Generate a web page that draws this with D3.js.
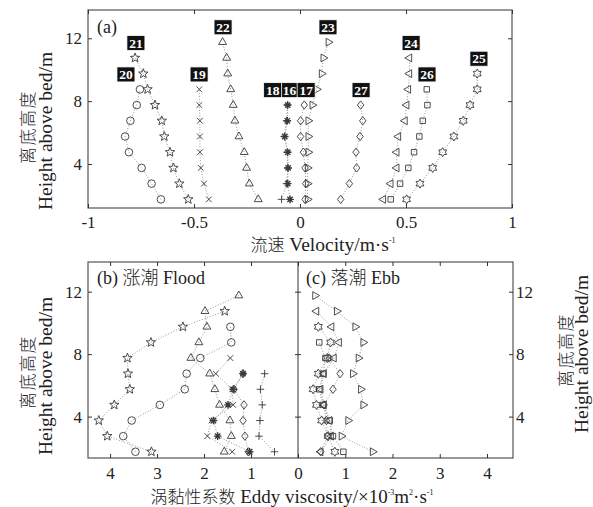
<!DOCTYPE html>
<html>
<head>
<meta charset="utf-8">
<script src="https://cdn.jsdelivr.net/npm/d3@7"></script>
<style>
  body { margin: 0; background: #fff; }
  svg text, svg tspan { font-family: "Liberation Serif", serif; fill: #222; }
  svg .cjk { font-family: "Noto Sans CJK SC", sans-serif; font-weight: 300; }
</style>
</head>
<body>
<svg id="chart" width="593" height="507"></svg>
<script>
// measurement heights above bed (m), bottom to top
const heights = [1.75, 2.75, 3.75, 4.75, 5.75, 6.75, 7.75, 8.75, 9.75, 10.75, 11.75];

const stations = ["16", "17", "18", "19", "20", "21", "22", "23", "24", "25", "26", "27"];
const markerKinds = ["asterisk", "diamond", "plus", "times", "circle", "pentagram",
                     "triangleUp", "triangleRight", "triangleLeft", "hexagram", "square", "diamond"];

// (a) velocity profiles, m/s, same order as stations
const velocity = [
  [-0.047, -0.058, -0.056, -0.058, -0.072, -0.060, -0.058],
  [0.024, 0.027, 0.024, 0.016, 0.003, 0.003, 0.020],
  [-0.087, -0.063, -0.058, -0.060, -0.074, -0.063, -0.060],
  [-0.430, -0.453, -0.468, -0.472, -0.472, -0.472, -0.475, -0.475],
  [-0.656, -0.700, -0.747, -0.807, -0.825, -0.800, -0.770, -0.755],
  [-0.527, -0.569, -0.597, -0.613, -0.640, -0.652, -0.684, -0.719, -0.739, -0.778],
  [-0.197, -0.239, -0.252, -0.263, -0.288, -0.307, -0.315, -0.327, -0.341, -0.346, -0.365],
  [0.036, 0.036, 0.036, 0.039, 0.039, 0.039, 0.058, 0.079, 0.102, 0.110, 0.134],
  [0.393, 0.428, 0.456, 0.456, 0.464, 0.495, 0.503, 0.511, 0.516, 0.516],
  [0.503, 0.566, 0.626, 0.673, 0.726, 0.770, 0.802, 0.836, 0.836],
  [0.428, 0.472, 0.511, 0.538, 0.563, 0.579, 0.601, 0.598],
  [0.192, 0.233, 0.267, 0.264, 0.283, 0.296, 0.286]
];
// where each station number box sits, in velocity units
const labelVelocity = [-0.049, 0.029, -0.129, -0.476, -0.821, -0.774, -0.363, 0.132, 0.524, 0.844, 0.599, 0.288];

// (b) flood eddy viscosity, 1e-3 m2/s
const floodStations = ["16", "17", "18", "19", "20", "21", "22"];
const floodViscosity = [
  [1.03, 1.71, 1.80, 1.49, 1.38, 1.17],
  [1.06, 1.13, 1.17, 1.15, 1.36, 1.17],
  [0.50, 0.83, 0.81, 0.76, 0.80, 0.71],
  [1.40, 1.93, 1.84, 1.38, 1.40, 1.75, 1.44],
  [3.46, 3.72, 3.54, 2.94, 2.41, 2.37, 2.08, 1.42, 1.44],
  [3.12, 4.06, 4.24, 3.91, 3.58, 3.62, 3.63, 3.13, 2.45, 1.56],
  [1.57, 1.42, 1.45, 1.67, 1.77, 1.88, 2.28, 2.11, 1.94, 1.98, 1.26]
];

// (c) ebb eddy viscosity, 1e-3 m2/s
const ebbStations = ["23", "24", "25", "26", "27"];
const ebbViscosity = [
  [1.58, 0.92, 1.06, 1.38, 1.33, 1.16, 1.28, 1.38, 1.21, 0.82, 0.36],
  [0.48, 0.70, 0.67, 0.55, 0.48, 0.55, 0.76, 0.87, 0.71, 0.39],
  [0.78, 0.64, 0.50, 0.39, 0.32, 0.43, 0.62, 0.69, 0.43],
  [0.96, 0.74, 0.67, 0.53, 0.45, 0.53, 0.58, 0.45],
  [0.48, 0.62, 0.60, 0.55, 0.74, 0.89, 0.66]
];

const velocityTicks = [-1, -0.5, 0, 0.5, 1];
const heightTicks = [4, 8, 12];
const viscosityTicks = [0, 1, 2, 3, 4];

const svg = d3.select("#chart");
const frameA = {left: 88, right: 512, top: 10, bottom: 208};
const frameB = {left: 88, mid: 298, right: 513, top: 262, bottom: 458};

const xA = d3.scaleLinear().domain([-1, 1]).range([frameA.left, frameA.right]);
const yA = d3.scaleLinear().domain([1.2, 13.8]).range([frameA.bottom, frameA.top]);
const xB = d3.scaleLinear().domain([0, 4.47]).range([frameB.mid, frameB.left]);
const xC = d3.scaleLinear().domain([0, 4.55]).range([frameB.mid, frameB.right]);
const yB = d3.scaleLinear().domain([1.35, 13.9]).range([frameB.bottom, frameB.top]);

const markerColor = "#3a3a3a";
const lineColor = "#8a8a8a";
const markerR = 3.8;

function markerPath(kind, r) {
  const p = d3.path();
  const poly = pts => { pts.forEach(([x, y], i) => i ? p.lineTo(x, y) : p.moveTo(x, y)); p.closePath(); };
  const ring = (n, R, start) => d3.range(n).map(i => [R * Math.cos(start + i * 2 * Math.PI / n), R * Math.sin(start + i * 2 * Math.PI / n)]);
  const star = (n, R, ri) => d3.range(2 * n).map(i => {
    const a = -Math.PI / 2 + i * Math.PI / n, rr = i % 2 ? ri : R;
    return [rr * Math.cos(a), rr * Math.sin(a)];
  });
  switch (kind) {
    case "circle": p.arc(0, 0, r, 0, 2 * Math.PI); break;
    case "square": p.rect(-r * 0.72, -r * 0.72, r * 1.44, r * 1.44); break;
    case "diamond": poly([[0, -r * 1.1], [r * 0.85, 0], [0, r * 1.1], [-r * 0.85, 0]]); break;
    case "triangleUp": poly(ring(3, r * 1.2, -Math.PI / 2)); break;
    case "triangleRight": poly(ring(3, r * 1.2, 0)); break;
    case "triangleLeft": poly(ring(3, r * 1.2, Math.PI)); break;
    case "pentagram": poly(star(5, r * 1.3, r * 0.55)); break;
    case "hexagram": poly(star(6, r * 1.2, r * 0.7)); break;
    case "plus":
      p.moveTo(-r, 0); p.lineTo(r, 0); p.moveTo(0, -r); p.lineTo(0, r); break;
    case "times": {
      const s = r * 0.75;
      p.moveTo(-s, -s); p.lineTo(s, s); p.moveTo(-s, s); p.lineTo(s, -s); break;
    }
    case "asterisk": {
      const s = r * 0.7;
      p.moveTo(-r, 0); p.lineTo(r, 0); p.moveTo(0, -r); p.lineTo(0, r);
      p.moveTo(-s, -s); p.lineTo(s, s); p.moveTo(-s, s); p.lineTo(s, -s); break;
    }
  }
  return p.toString();
}

function drawSeries(g, x, y, values, kind) {
  const pts = values.map((v, i) => [x(v), y(heights[i])]);
  g.append("path")
    .attr("d", d3.line()(pts))
    .attr("fill", "none")
    .attr("stroke", lineColor)
    .attr("stroke-width", 0.9)
    .attr("stroke-dasharray", "1,1.8");
  g.selectAll(null)
    .data(pts)
    .join("path")
    .attr("transform", d => `translate(${d[0]},${d[1]})`)
    .attr("d", markerPath(kind, markerR))
    .attr("fill", "none")
    .attr("stroke", markerColor)
    .attr("stroke-width", kind === "asterisk" ? 1.4 : 0.9);
  if (kind === "asterisk") {
    g.selectAll(null).data(pts).join("circle")
      .attr("cx", d => d[0]).attr("cy", d => d[1]).attr("r", 1.6)
      .attr("fill", markerColor);
  }
}

function styleAxis(g, size, hideText) {
  g.attr("font-family", null).attr("font-size", null);
  g.select(".domain").remove();
  g.selectAll(".tick line").attr("stroke", "#333");
  g.selectAll(".tick text").attr("font-size", size).attr("fill", "#222");
  if (hideText) g.selectAll(".tick text").remove();
}

// Chinese words followed by Latin pieces; pieces flagged true are superscripts
function mixedText(t, cn, parts) {
  t.append("tspan").attr("class", "cjk").attr("font-size", 17).text(cn);
  let raised = false;
  parts.forEach(([s, sup]) => {
    const ts = t.append("tspan").text(s);
    if (sup && !raised) { ts.attr("dy", -8).attr("font-size", 8); raised = true; }
    else if (sup) { ts.attr("font-size", 8); }
    else if (raised) { ts.attr("dy", 8); raised = false; }
  });
}

const intFormat = d3.format("d");

// ---------- panel (a) ----------
const gA = svg.append("g");
gA.append("g").attr("transform", `translate(0,${frameA.bottom})`)
  .call(d3.axisBottom(xA).tickValues(velocityTicks).tickSizeInner(-4).tickSizeOuter(0).tickPadding(8).tickFormat(d => d))
  .call(g => styleAxis(g, 17));
gA.append("g").attr("transform", `translate(0,${frameA.top})`)
  .call(d3.axisTop(xA).tickValues(velocityTicks).tickSizeInner(-4).tickSizeOuter(0))
  .call(g => styleAxis(g, 16, true));
gA.append("g").attr("transform", `translate(${frameA.left},0)`)
  .call(d3.axisLeft(yA).tickValues(heightTicks).tickSizeInner(-4).tickSizeOuter(0).tickPadding(6))
  .call(g => styleAxis(g, 17));
gA.append("g").attr("transform", `translate(${frameA.right},0)`)
  .call(d3.axisRight(yA).tickValues(heightTicks).tickSizeInner(-4).tickSizeOuter(0))
  .call(g => styleAxis(g, 16, true));
gA.append("rect")
  .attr("x", frameA.left).attr("y", frameA.top)
  .attr("width", frameA.right - frameA.left).attr("height", frameA.bottom - frameA.top)
  .attr("fill", "none").attr("stroke", "#333").attr("stroke-width", 1);

stations.forEach((s, i) => drawSeries(gA, xA, yA, velocity[i], markerKinds[i]));

// station number boxes
stations.forEach((s, i) => {
  const topH = heights[velocity[i].length - 1] + 0.95;
  const cx = xA(labelVelocity[i]), cy = yA(topH);
  gA.append("rect")
    .attr("x", cx - 9).attr("y", cy - 7.5).attr("width", 18).attr("height", 15)
    .attr("fill", "#111").attr("stroke", "#fff").attr("stroke-width", 0.8);
  gA.append("text")
    .attr("x", cx).attr("y", cy + 4.5)
    .attr("text-anchor", "middle")
    .attr("font-size", 13.5).attr("font-weight", "bold")
    .style("fill", "#fff")
    .text(s);
});

gA.append("text").attr("x", 97).attr("y", 33).attr("font-size", 18).text("(a)");

const vTitle = gA.append("text").attr("x", 323).attr("y", 251).attr("text-anchor", "middle")
  .attr("font-size", 19.5);
mixedText(vTitle, "流速", [[" Velocity/m·s"], ["-1", true]]);

function heightTitle(g, xCn, xEn, yc) {
  g.append("text").attr("class", "cjk").attr("transform", `translate(${xCn},${yc}) rotate(-90)`)
    .attr("text-anchor", "middle").attr("font-size", 17).attr("letter-spacing", 1.5).text("离底高度");
  g.append("text").attr("transform", `translate(${xEn},${yc + 4}) rotate(-90)`)
    .attr("text-anchor", "middle").attr("font-size", 19.5).text("Height above bed/m");
}
heightTitle(gA, 34, 52, 127);

// ---------- panels (b) and (c) ----------
const gB = svg.append("g");
gB.append("g").attr("transform", `translate(0,${frameB.bottom})`)
  .call(d3.axisBottom(xB).tickValues(viscosityTicks).tickSizeInner(-4).tickSizeOuter(0).tickPadding(9).tickFormat(intFormat))
  .call(g => styleAxis(g, 17));
gB.append("g").attr("transform", `translate(0,${frameB.bottom})`)
  .call(d3.axisBottom(xC).tickValues(viscosityTicks.slice(1)).tickSizeInner(-4).tickSizeOuter(0).tickPadding(9).tickFormat(intFormat))
  .call(g => styleAxis(g, 17));
gB.append("g").attr("transform", `translate(0,${frameB.top})`)
  .call(d3.axisTop(xB).tickValues(viscosityTicks).tickSizeInner(-4).tickSizeOuter(0))
  .call(g => styleAxis(g, 16, true));
gB.append("g").attr("transform", `translate(0,${frameB.top})`)
  .call(d3.axisTop(xC).tickValues(viscosityTicks.slice(1)).tickSizeInner(-4).tickSizeOuter(0))
  .call(g => styleAxis(g, 16, true));
gB.append("g").attr("transform", `translate(${frameB.left},0)`)
  .call(d3.axisLeft(yB).tickValues(heightTicks).tickSizeInner(-4).tickSizeOuter(0).tickPadding(6))
  .call(g => styleAxis(g, 17));
gB.append("g").attr("transform", `translate(${frameB.right},0)`)
  .call(d3.axisRight(yB).tickValues(heightTicks).tickSizeInner(-4).tickSizeOuter(0).tickPadding(3))
  .call(g => styleAxis(g, 17));
gB.append("g").attr("transform", `translate(${frameB.mid},0)`)
  .call(d3.axisLeft(yB).tickValues(heightTicks).tickSizeInner(3).tickSizeOuter(0))
  .call(g => styleAxis(g, 16, true));
gB.append("g").attr("transform", `translate(${frameB.mid},0)`)
  .call(d3.axisRight(yB).tickValues(heightTicks).tickSizeInner(3).tickSizeOuter(0))
  .call(g => styleAxis(g, 16, true));
gB.append("rect")
  .attr("x", frameB.left).attr("y", frameB.top)
  .attr("width", frameB.right - frameB.left).attr("height", frameB.bottom - frameB.top)
  .attr("fill", "none").attr("stroke", "#333").attr("stroke-width", 1);
gB.append("line")
  .attr("x1", frameB.mid).attr("x2", frameB.mid).attr("y1", frameB.top).attr("y2", frameB.bottom)
  .attr("stroke", "#333").attr("stroke-width", 1);

floodStations.forEach((s, i) => drawSeries(gB, xB, yB, floodViscosity[i], markerKinds[stations.indexOf(s)]));
ebbStations.forEach((s, i) => drawSeries(gB, xC, yB, ebbViscosity[i], markerKinds[stations.indexOf(s)]));

const bLabel = gB.append("text").attr("x", 97).attr("y", 284).attr("font-size", 18);
bLabel.append("tspan").text("(b) ");
bLabel.append("tspan").attr("class", "cjk").text("涨潮");
bLabel.append("tspan").text(" Flood");
const cLabel = gB.append("text").attr("x", 306).attr("y", 284).attr("font-size", 18);
cLabel.append("tspan").text("(c) ");
cLabel.append("tspan").attr("class", "cjk").text("落潮");
cLabel.append("tspan").text(" Ebb");

const eTitle = gB.append("text").attr("x", 292).attr("y", 503).attr("text-anchor", "middle")
  .attr("font-size", 19);
mixedText(eTitle, "涡黏性系数", [[" Eddy viscosity/×10"], ["-3", true], ["m"], ["2", true], ["·s"], ["-1", true]]);

heightTitle(gB, 34, 52, 372);
heightTitle(gB, 572, 588, 350);
</script>
</body>
</html>
